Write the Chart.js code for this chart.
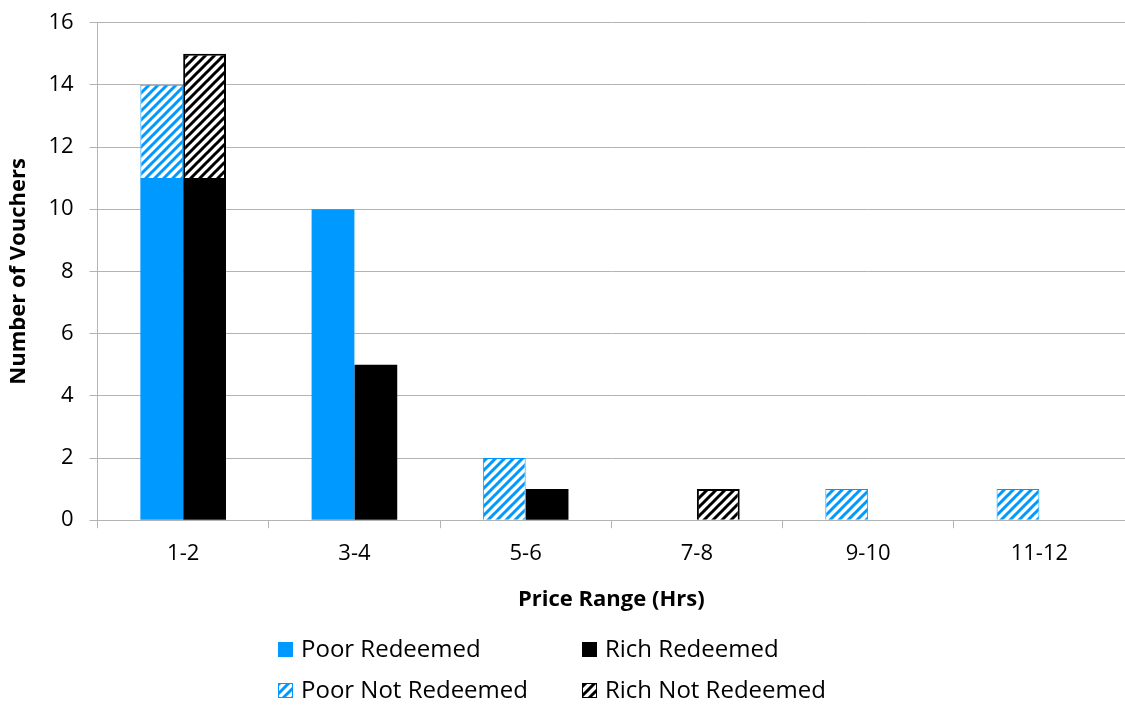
<!DOCTYPE html>
<html>
<head>
<meta charset="utf-8">
<script src="https://cdn.jsdelivr.net/npm/chart.js@4.4.1/dist/chart.umd.min.js"></script>
<style>
  html, body { margin: 0; padding: 0; background: #fff; }
  #wrap { width: 1125px; height: 707px; position: relative; }
</style>
</head>
<body>
<div id="wrap"><canvas id="voucherChart" width="1125" height="707"></canvas></div>
<script>
const priceRanges = ['1-2', '3-4', '5-6', '7-8', '9-10', '11-12'];
const poorRedeemed = [11, 10, 0, 0, 0, 0];
const poorNotRedeemed = [3, 0, 2, 0, 1, 1];
const richRedeemed = [11, 5, 1, 0, 0, 0];
const richNotRedeemed = [4, 0, 0, 1, 0, 0];
const yTicks = [0, 2, 4, 6, 8, 10, 12, 14, 16];

const BLUE = '#0099ff';
const FONT = "'Open Sans', sans-serif";

// diagonal hatch fill: coloured "/" stripes on white
function hatch(color) {
  const size = 9;
  const c = document.createElement('canvas');
  c.width = size; c.height = size;
  const g = c.getContext('2d');
  g.fillStyle = '#fff';
  g.fillRect(0, 0, size, size);
  g.strokeStyle = color;
  g.lineWidth = 3;
  g.beginPath();
  g.moveTo(-2, size + 2); g.lineTo(size + 2, -2);
  g.moveTo(-2, 2); g.lineTo(2, -2);
  g.moveTo(size - 2, size + 2); g.lineTo(size + 2, size - 2);
  g.stroke();
  return g.createPattern(c, 'repeat');
}

const ctx = document.getElementById('voucherChart').getContext('2d');
const blueHatch = hatch(BLUE);
const blackHatch = hatch('#000');

const border = w => c => (c.raw ? w : 0);

// legend laid out as a 2x2 grid under the x axis title
const gridLegend = {
  id: 'gridLegend',
  afterDraw(chart) {
    const g = chart.ctx;
    const cols = [278, 582];
    const rows = [649, 690];
    const order = [0, 2, 1, 3];
    g.save();
    g.font = '24px ' + FONT;
    g.textBaseline = 'middle';
    order.forEach((di, i) => {
      const ds = chart.data.datasets[di];
      const x = cols[i % 2];
      const y = rows[Math.floor(i / 2)];
      g.fillStyle = ds.backgroundColor;
      g.fillRect(x, y - 7, 15, 15);
      if (ds.legendBorder) {
        g.strokeStyle = ds.legendBorder;
        g.lineWidth = 1;
        g.strokeRect(x + 0.5, y - 6.5, 14, 14);
      }
      g.fillStyle = '#000';
      g.fillText(ds.label, x + 23, y + 1);
    });
    g.restore();
  }
};

new Chart(ctx, {
  type: 'bar',
  data: {
    labels: priceRanges,
    datasets: [
      { label: 'Poor Redeemed', data: poorRedeemed, stack: 'poor', backgroundColor: BLUE, borderWidth: 0 },
      { label: 'Poor Not Redeemed', data: poorNotRedeemed, stack: 'poor', backgroundColor: blueHatch,
        borderColor: BLUE, borderWidth: border(1), legendBorder: BLUE },
      { label: 'Rich Redeemed', data: richRedeemed, stack: 'rich', backgroundColor: '#000', borderWidth: 0 },
      { label: 'Rich Not Redeemed', data: richNotRedeemed, stack: 'rich', backgroundColor: blackHatch,
        borderColor: '#000', borderWidth: border(2), legendBorder: '#000' }
    ]
  },
  options: {
    responsive: false,
    animation: false,
    layout: { padding: { top: 8, right: -7, bottom: 90, left: 2 } },
    datasets: { bar: { categoryPercentage: 0.5, barPercentage: 1.0 } },
    plugins: { legend: { display: false }, tooltip: { enabled: false } },
    scales: {
      x: {
        stacked: true,
        grid: { offset: true, drawOnChartArea: false, color: '#b3b3b3', tickLength: 8 },
        border: { color: '#b3b3b3', width: 1 },
        ticks: { color: '#000', font: { family: FONT, size: 22 }, padding: 12 },
        title: { display: true, text: 'Price Range (Hrs)', color: '#000',
          font: { family: FONT, size: 22, weight: 'bold' }, padding: { top: 8 } }
      },
      y: {
        stacked: true,
        min: 0, max: 16,
        afterBuildTicks: axis => { axis.ticks = yTicks.map(v => ({ value: v })); },
        grid: { color: '#b3b3b3', tickLength: 8 },
        border: { color: '#b3b3b3', width: 1 },
        ticks: { color: '#000', font: { family: FONT, size: 22, lineHeight: 0.6 }, padding: 16 },
        title: { display: true, text: 'Number of Vouchers', color: '#000',
          font: { family: FONT, size: 22, weight: 'bold' }, padding: { bottom: 0 } }
      }
    }
  },
  plugins: [gridLegend]
});
</script>
</body>
</html>
